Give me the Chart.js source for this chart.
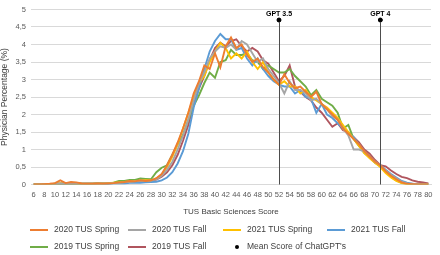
<!DOCTYPE html>
<html>
<head>
<meta charset="utf-8">
<script src="https://cdn.jsdelivr.net/npm/chart.js@4"></script>
<style>
  html, body { margin: 0; padding: 0; background: #fff; }
  #wrap { width: 440px; height: 255px; }
</style>
</head>
<body>
<div id="wrap"><canvas id="chart"></canvas></div>
<script>
// scores on the x axis (6 .. 80)
const scores = [];
for (let s = 6; s <= 80; s++) scores.push(String(s));

const seriesNames = ["2020 TUS Spring", "2020 TUS Fall", "2021 TUS Spring", "2021 TUS Fall", "2019 TUS Spring", "2019 TUS Fall"];
const meanName = "Mean Score of ChatGPT's";

// physician percentage per score, 6..80
const spring2020 = [
  0, 0, 0.01, 0.02, 0.04, 0.12, 0.04, 0.07, 0.06, 0.03,
  0.02, 0.02, 0.03, 0.02, 0.03, 0.04, 0.06, 0.07, 0.1, 0.09,
  0.12, 0.1, 0.12, 0.18, 0.3, 0.55, 0.85, 1.2, 1.6, 2.05,
  2.6, 2.95, 3.4, 3.3, 3.75, 3.35, 3.95, 4.2, 3.9, 4.0,
  3.7, 3.5, 3.6, 3.35, 3.2, 3.0, 2.85, 3.15, 2.9, 2.75,
  2.8, 2.65, 2.5, 2.65, 2.3, 2.15, 2.0, 1.85, 1.6, 1.45,
  1.3, 1.15, 0.95, 0.8, 0.65, 0.55, 0.38, 0.25, 0.15, 0.06,
  0.02, 0.01, 0, 0, 0
];
const fall2020 = [
  0, 0, 0, 0.01, 0.01, 0.02, 0.02, 0.02, 0.02, 0.02,
  0.02, 0.02, 0.03, 0.03, 0.03, 0.04, 0.05, 0.06, 0.08, 0.09,
  0.1, 0.1, 0.11, 0.15, 0.25, 0.42, 0.65, 1.0, 1.4, 1.85,
  2.4, 2.9, 3.2, 3.6, 3.8, 3.95, 3.9, 4.0, 3.85, 4.1,
  4.0, 3.75, 3.5, 3.6, 3.3, 3.1, 2.9, 2.6, 2.95, 2.7,
  2.7, 2.6, 2.4, 2.45, 2.3, 2.15, 1.95, 1.85, 1.6, 1.4,
  1.0, 1.0, 0.95, 0.8, 0.65, 0.55, 0.4, 0.28, 0.18, 0.08,
  0.03, 0.02, 0.01, 0, 0
];
const spring2021 = [
  0, 0, 0, 0.01, 0.02, 0.03, 0.03, 0.03, 0.02, 0.02,
  0.02, 0.02, 0.03, 0.03, 0.04, 0.05, 0.06, 0.07, 0.09, 0.1,
  0.11, 0.12, 0.12, 0.17, 0.28, 0.5, 0.8, 1.15, 1.6, 2.05,
  2.5, 2.9, 3.1, 3.5, 3.8, 4.05, 3.9, 3.6, 3.75, 3.6,
  3.8, 3.5, 3.3, 3.5, 3.2, 3.0, 2.85, 2.95, 2.8, 2.8,
  2.6, 2.7, 2.5, 2.4, 2.3, 2.2, 2.05, 1.9, 1.7, 1.5,
  1.3, 1.1, 0.9, 0.75, 0.62, 0.5, 0.33, 0.2, 0.1, 0.04,
  0, 0, 0, 0, 0
];
const fall2021 = [
  0, 0, 0, 0.01, 0.02, 0.03, 0.02, 0.02, 0.02, 0.02,
  0.02, 0.02, 0.02, 0.02, 0.02, 0.03, 0.03, 0.03, 0.05, 0.05,
  0.05, 0.06, 0.07, 0.08, 0.12, 0.2, 0.35, 0.6, 0.95, 1.45,
  2.2, 2.75, 3.3, 3.8, 4.1, 4.3, 4.15, 4.15, 3.85, 3.9,
  3.6, 3.4, 3.6, 3.3, 3.1, 2.95, 2.85, 2.8, 2.8, 2.6,
  2.7, 2.5, 2.45, 2.05, 2.3, 2.0, 1.9, 1.75, 1.6, 1.45,
  1.35, 1.15, 0.95, 0.8, 0.65, 0.55, 0.42, 0.3, 0.2, 0.1,
  0.05, 0.02, 0.01, 0.01, 0
];
const spring2019 = [
  0, 0, 0, 0.01, 0.02, 0.02, 0.03, 0.02, 0.02, 0.02,
  0.02, 0.02, 0.04, 0.03, 0.03, 0.05, 0.1, 0.1, 0.13, 0.13,
  0.17, 0.16, 0.15, 0.35, 0.48, 0.55, 0.85, 1.15, 1.42, 1.85,
  2.25, 2.55, 2.9, 3.2, 3.05, 3.5, 3.55, 3.85, 3.7, 3.7,
  3.75, 3.55, 3.5, 3.3, 3.4, 3.3, 3.2, 3.2, 3.3, 3.1,
  2.95, 2.8, 2.55, 2.7, 2.45, 2.35, 2.25, 2.05, 1.6, 1.7,
  1.3, 1.1, 0.9, 0.78, 0.62, 0.52, 0.36, 0.22, 0.12, 0.05,
  0.02, 0.01, 0, 0, 0
];
const fall2019 = [
  0, 0, 0, 0.01, 0.01, 0.02, 0.02, 0.03, 0.02, 0.02,
  0.02, 0.02, 0.03, 0.03, 0.03, 0.04, 0.05, 0.06, 0.08, 0.1,
  0.1, 0.11, 0.1, 0.14, 0.22, 0.35, 0.55, 0.85, 1.25, 1.7,
  2.3, 2.75, 3.1, 3.55, 3.9, 4.05, 3.95, 4.1, 4.15, 3.95,
  3.8, 3.9, 3.8, 3.55, 3.45, 3.2, 2.95, 3.1, 3.4, 2.8,
  2.65, 2.5, 2.4, 2.2, 2.05, 1.85, 1.65, 1.75, 1.55, 1.5,
  1.35, 1.2, 1.0, 0.88, 0.7, 0.55, 0.52, 0.4, 0.3, 0.22,
  0.18, 0.12, 0.08, 0.06, 0.03
];

// ChatGPT mean scores
const gptScores = ["52", "71"];
const gptLabels = ["GPT 3.5", "GPT 4"];
const gptMarkY = 4.7;

const colors = ["#ED7D31", "#A5A5A5", "#FFC000", "#5B9BD5", "#70AD47", "#B0555E"];
const FONT = "'Liberation Sans', Arial, sans-serif";

const allSeries = [spring2020, fall2020, spring2021, fall2021, spring2019, fall2019];
const meanData = scores.map(s => gptScores.includes(s) ? gptMarkY : null);

const datasets = allSeries.map((d, i) => ({
  label: seriesNames[i],
  data: d,
  borderColor: colors[i],
  backgroundColor: colors[i],
  borderWidth: 1.9,
  pointRadius: 0,
  tension: 0
}));
datasets.push({
  label: meanName,
  data: meanData,
  showLine: false,
  pointRadius: 2,
  pointBackgroundColor: "#000",
  pointBorderColor: "#000",
  borderColor: "#000",
  backgroundColor: "#000"
});

// vertical drop lines + GPT labels
const gptLines = {
  id: "gptLines",
  afterDatasetsDraw(chart) {
    const { ctx, chartArea } = chart;
    const meta = chart.getDatasetMeta(datasets.length - 1);
    ctx.save();
    gptScores.forEach((s, i) => {
      const pt = meta.data[scores.indexOf(s)];
      ctx.strokeStyle = "#4D4D4D";
      ctx.lineWidth = 1;
      ctx.beginPath();
      ctx.moveTo(Math.round(pt.x) + 0.5, pt.y);
      ctx.lineTo(Math.round(pt.x) + 0.5, chartArea.bottom);
      ctx.stroke();
      ctx.fillStyle = "#000";
      ctx.beginPath();
      ctx.arc(pt.x, pt.y, 2, 0, Math.PI * 2);
      ctx.fill();
      ctx.font = "bold 7px " + FONT;
      ctx.textAlign = "center";
      ctx.textBaseline = "middle";
      ctx.fillText(gptLabels[i], pt.x, pt.y - 6);
    });
    ctx.restore();
  }
};

// legend laid out in a grid like the original
const gridLegend = {
  id: "gridLegend",
  afterDraw(chart) {
    const { ctx } = chart;
    const colX = [30, 128, 223, 327];
    const rowY = [230, 247];
    ctx.save();
    ctx.font = "8.5px " + FONT;
    ctx.textBaseline = "middle";
    ctx.textAlign = "left";
    chart.data.datasets.forEach((ds, i) => {
      const x = colX[i % 4];
      const y = rowY[Math.floor(i / 4)];
      if (ds.showLine === false) {
        ctx.fillStyle = "#000";
        ctx.beginPath();
        ctx.arc(x + 14, y, 2, 0, Math.PI * 2);
        ctx.fill();
      } else {
        ctx.strokeStyle = ds.borderColor;
        ctx.lineWidth = 2;
        ctx.beginPath();
        ctx.moveTo(x, y);
        ctx.lineTo(x + 18, y);
        ctx.stroke();
      }
      ctx.fillStyle = "#404040";
      ctx.fillText(ds.label, x + 24, y);
    });
    ctx.restore();
  }
};

new Chart(document.getElementById("chart"), {
  type: "line",
  data: { labels: scores, datasets: datasets },
  options: {
    responsive: true,
    maintainAspectRatio: false,
    animation: false,
    layout: { padding: { top: -3, right: 9, bottom: 36, left: 0 } },
    plugins: {
      legend: { display: false },
      tooltip: { enabled: false }
    },
    scales: {
      x: {
        offset: true,
        grid: { display: false, drawTicks: false },
        border: { color: "#D9D9D9" },
        ticks: {
          autoSkip: false,
          maxRotation: 0,
          padding: 6,
          color: "#595959",
          font: { family: FONT, size: 7.5 },
          callback: function (v) {
            const lbl = this.getLabelForValue(v);
            return Number(lbl) % 2 === 0 ? lbl : "";
          }
        },
        title: {
          display: true,
          text: "TUS Basic Sciences Score",
          color: "#404040",
          font: { family: FONT, size: 8 },
          padding: { top: 0, bottom: 2 }
        },
        afterFit(scale) { scale.height = 34.5; }
      },
      y: {
        min: 0,
        max: 5,
        grid: { color: "#D9D9D9", drawTicks: false },
        border: { display: false },
        ticks: {
          stepSize: 0.5,
          padding: 5,
          color: "#595959",
          font: { family: FONT, size: 7.5 },
          callback: v => String(v).replace(".", ",")
        },
        title: {
          display: true,
          text: "Physician Percentage (%)",
          color: "#404040",
          font: { family: FONT, size: 8.5 },
          padding: 0
        },
        afterFit(scale) { scale.width = 31; }
      }
    }
  },
  plugins: [gptLines, gridLegend]
});
</script>
</body>
</html>
